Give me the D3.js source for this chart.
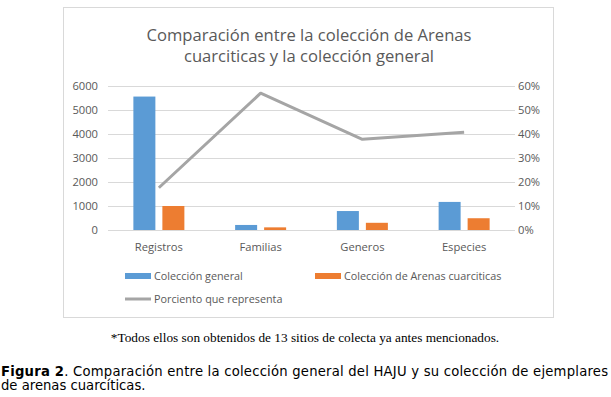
<!DOCTYPE html>
<html>
<head>
<meta charset="utf-8">
<script src="https://cdn.jsdelivr.net/npm/d3@7"></script>
<style>
  body { margin: 0; background: #fff; }
  svg { display: block; }
  .lbl { font-family: "Open Sans", sans-serif; fill: #595959; }
</style>
</head>
<body>
<svg id="chart" width="611" height="397"></svg>
<script>
// data
let categories = ["Registros", "Familias", "Generos", "Especies"];
let series_names = ["Colección general", "Colección de Arenas cuarciticas"];
let general_values = [5560, 210, 790, 1170];
let arenas_values = [1000, 110, 300, 490];
let percent_values = [0.176, 0.57, 0.378, 0.407];
let left_ticks = [0, 1000, 2000, 3000, 4000, 5000, 6000];
let right_ticks = [0, 0.1, 0.2, 0.3, 0.4, 0.5, 0.6];
let line_name = "Porciento que representa";

let colors = { general: "#5b9bd5", arenas: "#ed7d31", line: "#a5a5a5" };

let svg = d3.select("#chart");

// frame of the excel chart
svg.append("rect")
  .attr("x", 63.5).attr("y", 7.5)
  .attr("width", 490).attr("height", 310)
  .attr("fill", "#fff")
  .attr("stroke", "#d9d9d9");

// title
let title_lines = ["Comparación entre la colección de Arenas", "cuarciticas y la colección general"];
svg.selectAll(".title")
  .data(title_lines)
  .enter()
  .append("text")
  .attr("class", "lbl title")
  .attr("x", 309)
  .attr("y", (d, i) => 41 + i * 21)
  .attr("text-anchor", "middle")
  .attr("font-size", 16.6)
  .text((d) => d);

let plot = { left: 108, right: 515, top: 86, bottom: 230 };

let y_left = d3.scaleLinear().domain([0, 6000]).range([plot.bottom, plot.top]);
let y_right = d3.scaleLinear().domain([0, 0.6]).range([plot.bottom, plot.top]);
let x0 = d3.scaleBand().domain(categories).range([plot.left, plot.right]);
let x1 = d3.scaleBand()
  .domain(["general", "arenas"])
  .range([0, 51])
  .paddingInner(7 / 29);
let group_offset = (x0.bandwidth() - 51) / 2;

// gridlines
svg.append("g")
  .selectAll("line")
  .data(left_ticks)
  .enter()
  .append("line")
  .attr("x1", plot.left).attr("x2", plot.right)
  .attr("y1", (d) => Math.round(y_left(d)) + 0.5)
  .attr("y2", (d) => Math.round(y_left(d)) + 0.5)
  .attr("stroke", "#d9d9d9")
  .attr("stroke-width", 1);

// left axis labels
svg.append("g")
  .selectAll("text")
  .data(left_ticks)
  .enter()
  .append("text")
  .attr("class", "lbl")
  .attr("x", 98)
  .attr("y", (d) => y_left(d))
  .attr("dy", ".35em")
  .attr("text-anchor", "end")
  .attr("font-size", 11.2)
  .text((d) => d);

// right axis labels
svg.append("g")
  .selectAll("text")
  .data(right_ticks)
  .enter()
  .append("text")
  .attr("class", "lbl")
  .attr("x", 518)
  .attr("y", (d) => y_right(d))
  .attr("dy", ".35em")
  .attr("text-anchor", "start")
  .attr("font-size", 11.2)
  .text((d) => d3.format(".0%")(d));

// category labels
svg.append("g")
  .selectAll("text")
  .data(categories)
  .enter()
  .append("text")
  .attr("class", "lbl")
  .attr("x", (d) => x0(d) + x0.bandwidth() / 2)
  .attr("y", 251)
  .attr("text-anchor", "middle")
  .attr("font-size", 11.2)
  .text((d) => d);

// bars
let bar_data = categories.map((c, i) => ({
  category: c,
  values: [
    { key: "general", value: general_values[i] },
    { key: "arenas", value: arenas_values[i] },
  ],
}));

svg.append("g")
  .selectAll("g")
  .data(bar_data)
  .enter()
  .append("g")
  .attr("transform", (d) => "translate(" + (x0(d.category) + group_offset) + ",0)")
  .selectAll("rect")
  .data((d) => d.values)
  .enter()
  .append("rect")
  .attr("x", (d) => x1(d.key))
  .attr("width", x1.bandwidth())
  .attr("y", (d) => y_left(d.value))
  .attr("height", (d) => y_left(0) - y_left(d.value))
  .attr("fill", (d) => colors[d.key]);

// percent line
let line = d3.line()
  .x((d, i) => x0(categories[i]) + x0.bandwidth() / 2)
  .y((d) => y_right(d));

svg.append("path")
  .datum(percent_values)
  .attr("d", line)
  .attr("fill", "none")
  .attr("stroke", colors.line)
  .attr("stroke-width", 3)
  .attr("stroke-linejoin", "round");

// legend
let legend_items = [
  { name: series_names[0], key: "general", x: 125, y: 276, type: "rect" },
  { name: series_names[1], key: "arenas", x: 315, y: 276, type: "rect" },
  { name: line_name, key: "line", x: 125, y: 299, type: "line" },
];

let legend = svg.append("g")
  .selectAll("g")
  .data(legend_items)
  .enter()
  .append("g")
  .attr("transform", (d) => "translate(" + d.x + "," + d.y + ")");

legend.filter((d) => d.type == "rect")
  .append("rect")
  .attr("x", 0).attr("y", -3)
  .attr("width", 26).attr("height", 6)
  .attr("fill", (d) => colors[d.key]);

legend.filter((d) => d.type == "line")
  .append("line")
  .attr("x1", 0).attr("x2", 26)
  .attr("y1", 0).attr("y2", 0)
  .attr("stroke", (d) => colors[d.key])
  .attr("stroke-width", 3);

legend.append("text")
  .attr("class", "lbl")
  .attr("x", 29)
  .attr("y", 0)
  .attr("dy", ".35em")
  .attr("font-size", 10.8)
  .text((d) => d.name);

// footnote below the chart
svg.append("text")
  .attr("x", 305)
  .attr("y", 342)
  .attr("text-anchor", "middle")
  .attr("font-family", "'Liberation Serif', serif")
  .attr("font-size", 13.3)
  .attr("fill", "#000")
  .text("*Todos ellos son obtenidos de 13 sitios de colecta ya antes mencionados.");

// figure caption
let caption1 = svg.append("text")
  .attr("x", 1)
  .attr("y", 376)
  .attr("font-family", "'DejaVu Sans', Verdana, sans-serif")
  .attr("font-size", 13.2)
  .attr("fill", "#000")
  .attr("textLength", 607)
  .attr("lengthAdjust", "spacing");
caption1.append("tspan").attr("font-weight", "bold").text("Figura 2");
caption1.append("tspan").text(". Comparación entre la colección general del HAJU y su colección de ejemplares");

svg.append("text")
  .attr("x", 1)
  .attr("y", 390)
  .attr("font-family", "'DejaVu Sans', Verdana, sans-serif")
  .attr("font-size", 13.2)
  .attr("fill", "#000")
  .text("de arenas cuarcíticas.");
</script>
</body>
</html>
